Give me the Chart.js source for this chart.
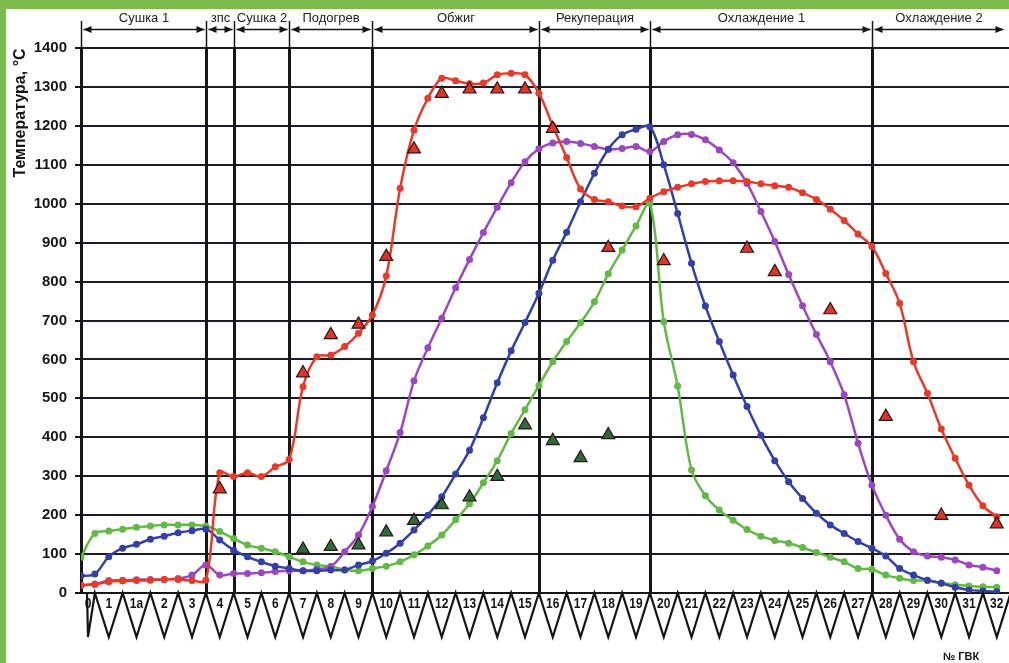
<!DOCTYPE html>
<html><head><meta charset="utf-8">
<script src="https://cdn.jsdelivr.net/npm/chart.js@4/dist/chart.umd.min.js"></script>
<style>html,body{margin:0;padding:0;background:#fff;}canvas{display:block;}</style>
</head><body>
<canvas id="c" width="1009" height="663"></canvas>
<script>
// ---- category labels (№ ГВК) ----
const catLabels = ['0','1','1a','2','3','4','5','6','7','8','9','10','11','12','13','14','15','16','17','18','19','20','21','22','23','24','25','26','27','28','29','30','31','32'];
// ---- zones (edges in category-index units) ----
const zoneNames = ['Сушка 1','зпс','Сушка 2','Подогрев','Обжиг','Рекуперация','Охлаждение 1','Охлаждение 2'];
const zoneEdges = [0, 4.5, 5.5, 7.5, 10.5, 16.5, 20.5, 28.5, 33.3];
// ---- curves: values every half position, from 0 to 33 ----
const redCurve = [20,22,29,31,32,33,35,35,32,33, 309,299,309,299,324,343,530,607,611,633, 667,714,814,1040,1189,1271,1322,1316,1308,1310, 1331,1335,1331,1284,1200,1119,1038,1011,1005,994, 992,1014,1031,1042,1051,1057,1059,1059,1057,1051, 1046,1042,1028,1011,986,957,922,890,821,744, 594,513,421,346,277,224,196];
const purpleCurve = [20,23,32,33,34,35,35,37,46,72, 46,50,50,52,55,57,57,61,68,106, 149,222,314,412,545,630,706,784,857,926, 991,1054,1108,1141,1156,1160,1155,1147,1140,1142, 1147,1134,1160,1177,1178,1164,1138,1105,1052,980, 903,818,738,664,594,509,385,277,200,138, 106,95,92,85,72,66,57];
const blueCurve = [44,49,93,115,125,138,146,155,160,164, 136,110,93,80,69,63,57,57,59,59, 72,82,102,128,162,200,247,306,367,450, 540,622,695,770,855,927,1005,1078,1140,1177, 1191,1198,1100,975,847,737,646,560,479,405, 340,286,243,205,175,153,132,115,95,63, 46,33,25,15,8,5,3];
const greenCurve = [92,153,159,164,169,172,175,175,175,172, 158,140,123,115,106,93,80,72,68,60, 57,63,69,80,98,121,149,188,229,283, 340,410,471,533,594,646,694,748,820,881, 943,1001,697,532,316,250,213,187,163,146, 135,128,117,104,92,80,63,61,46,38, 32,32,26,21,18,16,15];
// ---- measured points (triangles) ----
const redMeasCats = ['4','7','8','9','10','11','12','13','14','15','16','18','20','23','24','26','28','30','32'];
const redMeasVals = [267,565,663,690,864,1140,1283,1294,1294,1294,1193,887,853,885,825,727,453,199,177];
const greenMeasCats = ['7','8','9','10','11','12','13','14','15','16','17','18'];
const greenMeasVals = [112,119,123,156,186,226,246,299,431,391,347,406];

const curve = vals => vals.map((v, k) => ({x: k / 2, y: v}));
const meas = (cats, vals) => cats.map((c, k) => ({x: catLabels.indexOf(c), y: vals[k]}));

const FONT = '"Liberation Sans", Arial, sans-serif';
const INK = '#161616';

const lineDs = (vals, color) => ({
  data: curve(vals), borderColor: color, backgroundColor: color,
  borderWidth: 2.5, pointRadius: 3.5, pointBorderWidth: 0, pointBackgroundColor: color,
  tension: 0.35, fill: false
});
const triDs = (data, fillC) => ({
  data, showLine: false, pointStyle: 'triangle', pointRadius: 7.5,
  pointBackgroundColor: fillC, pointBorderColor: '#2a1612', pointBorderWidth: 1.2,
  borderColor: fillC, backgroundColor: fillC
});

const decor = {
  id: 'decor',
  beforeDraw(chart) {
    const {ctx, width, height} = chart;
    ctx.save();
    ctx.fillStyle = '#ffffff'; ctx.fillRect(0, 0, width, height);
    ctx.fillStyle = '#7dba4c';
    ctx.fillRect(0, 0, width, 9);
    ctx.fillRect(0, 0, 6, height);
    ctx.restore();
  },
  beforeDatasetsDraw(chart) {
    const {ctx, chartArea: a, scales: {x}} = chart;
    ctx.save();
    ctx.strokeStyle = INK;
    const px = v => Math.round(x.getPixelForValue(v)) + 0.5;
    zoneEdges.forEach((e, k) => {
      if (k === zoneEdges.length - 1) return;
      const p = px(e);
      ctx.lineWidth = 1.5;
      ctx.beginPath(); ctx.moveTo(p, 21); ctx.lineTo(p, a.top); ctx.stroke();
      if (k > 0) {
        ctx.lineWidth = 3;
        ctx.beginPath(); ctx.moveTo(p, a.top); ctx.lineTo(p, a.bottom); ctx.stroke();
      }
    });
    const ay = 29.5;
    ctx.fillStyle = INK;
    for (let k = 0; k < zoneNames.length; k++) {
      const x1 = px(zoneEdges[k]) + 2, x2 = px(zoneEdges[k + 1]) - 2;
      ctx.lineWidth = 1.5;
      ctx.beginPath(); ctx.moveTo(x1, ay); ctx.lineTo(x2, ay); ctx.stroke();
      ctx.beginPath(); ctx.moveTo(x1, ay); ctx.lineTo(x1 + 8, ay - 3.5); ctx.lineTo(x1 + 8, ay + 3.5); ctx.closePath(); ctx.fill();
      ctx.beginPath(); ctx.moveTo(x2, ay); ctx.lineTo(x2 - 8, ay - 3.5); ctx.lineTo(x2 - 8, ay + 3.5); ctx.closePath(); ctx.fill();
      ctx.font = '13px ' + FONT;
      ctx.textAlign = 'center'; ctx.textBaseline = 'middle';
      ctx.fillStyle = '#222';
      ctx.fillText(zoneNames[k], (x1 + x2) / 2, 18);
      ctx.fillStyle = INK;
    }
    ctx.restore();
  },
  afterDraw(chart) {
    const {ctx, chartArea: a, scales: {x}} = chart;
    ctx.save();
    const top = a.bottom, bot = a.bottom + 44;
    const half = (x.getPixelForValue(1) - x.getPixelForValue(0)) / 2;
    const cx = i => (i === 0 ? x.getPixelForValue(0) + 7 : x.getPixelForValue(i));
    ctx.strokeStyle = INK; ctx.lineWidth = 2.2; ctx.lineJoin = 'miter';
    ctx.beginPath();
    ctx.moveTo(cx(0) - 1, top); ctx.lineTo(cx(0), bot);
    for (let i = 1; i < catLabels.length; i++) {
      ctx.lineTo(x.getPixelForValue(i) - half, top);
      ctx.lineTo(cx(i), bot);
    }
    ctx.lineTo(x.getPixelForValue(catLabels.length - 1) + half, top);
    ctx.stroke();
    ctx.fillStyle = INK;
    ctx.font = 'bold 15px ' + FONT;
    ctx.textAlign = 'center'; ctx.textBaseline = 'middle';
    catLabels.forEach((l, i) => {
      ctx.save();
      ctx.translate(cx(i), 604);
      ctx.scale(0.8, 1);
      ctx.fillText(l, 0, 0);
      ctx.restore();
    });
    ctx.save();
    ctx.translate(21, 113);
    ctx.rotate(-Math.PI / 2);
    ctx.font = 'bold 16px ' + FONT;
    ctx.fillText('Температура, °С', 0, 0);
    ctx.restore();
    ctx.font = 'bold 11px ' + FONT;
    ctx.fillText('№ ГВК', 961, 657);
    ctx.restore();
  }
};

new Chart(document.getElementById('c'), {
  type: 'line',
  data: {
    datasets: [
      triDs(meas(redMeasCats, redMeasVals), '#e0342a'),
      triDs(meas(greenMeasCats, greenMeasVals), '#2f6a3c'),
      lineDs(redCurve, '#e63a2a'),
      lineDs(blueCurve, '#3440a8'),
      lineDs(purpleCurve, '#9a48c0'),
      lineDs(greenCurve, '#62b946')
    ]
  },
  options: {
    responsive: false, animation: false, events: [],
    layout: {autoPadding: false, padding: {top: 48, bottom: 70, left: 0, right: 0}},
    plugins: {legend: {display: false}, tooltip: {enabled: false}},
    scales: {
      x: {
        type: 'linear', min: 0, max: 33.44,
        grid: {display: false, drawTicks: false},
        ticks: {display: false},
        border: {display: true, color: INK, width: 2},
        afterFit: s => { s.height = 0; }
      },
      y: {
        min: 0, max: 1400,
        ticks: {stepSize: 100, color: INK, padding: 8, font: {family: FONT, size: 15, weight: 'bold'}, callback: v => String(v)},
        grid: {color: '#1c1c24', lineWidth: 2, tickLength: 6, tickColor: INK, tickWidth: 2},
        border: {display: true, color: INK, width: 3},
        afterFit: s => { s.width = 81; }
      }
    }
  },
  plugins: [decor]
});
</script>
</body></html>
